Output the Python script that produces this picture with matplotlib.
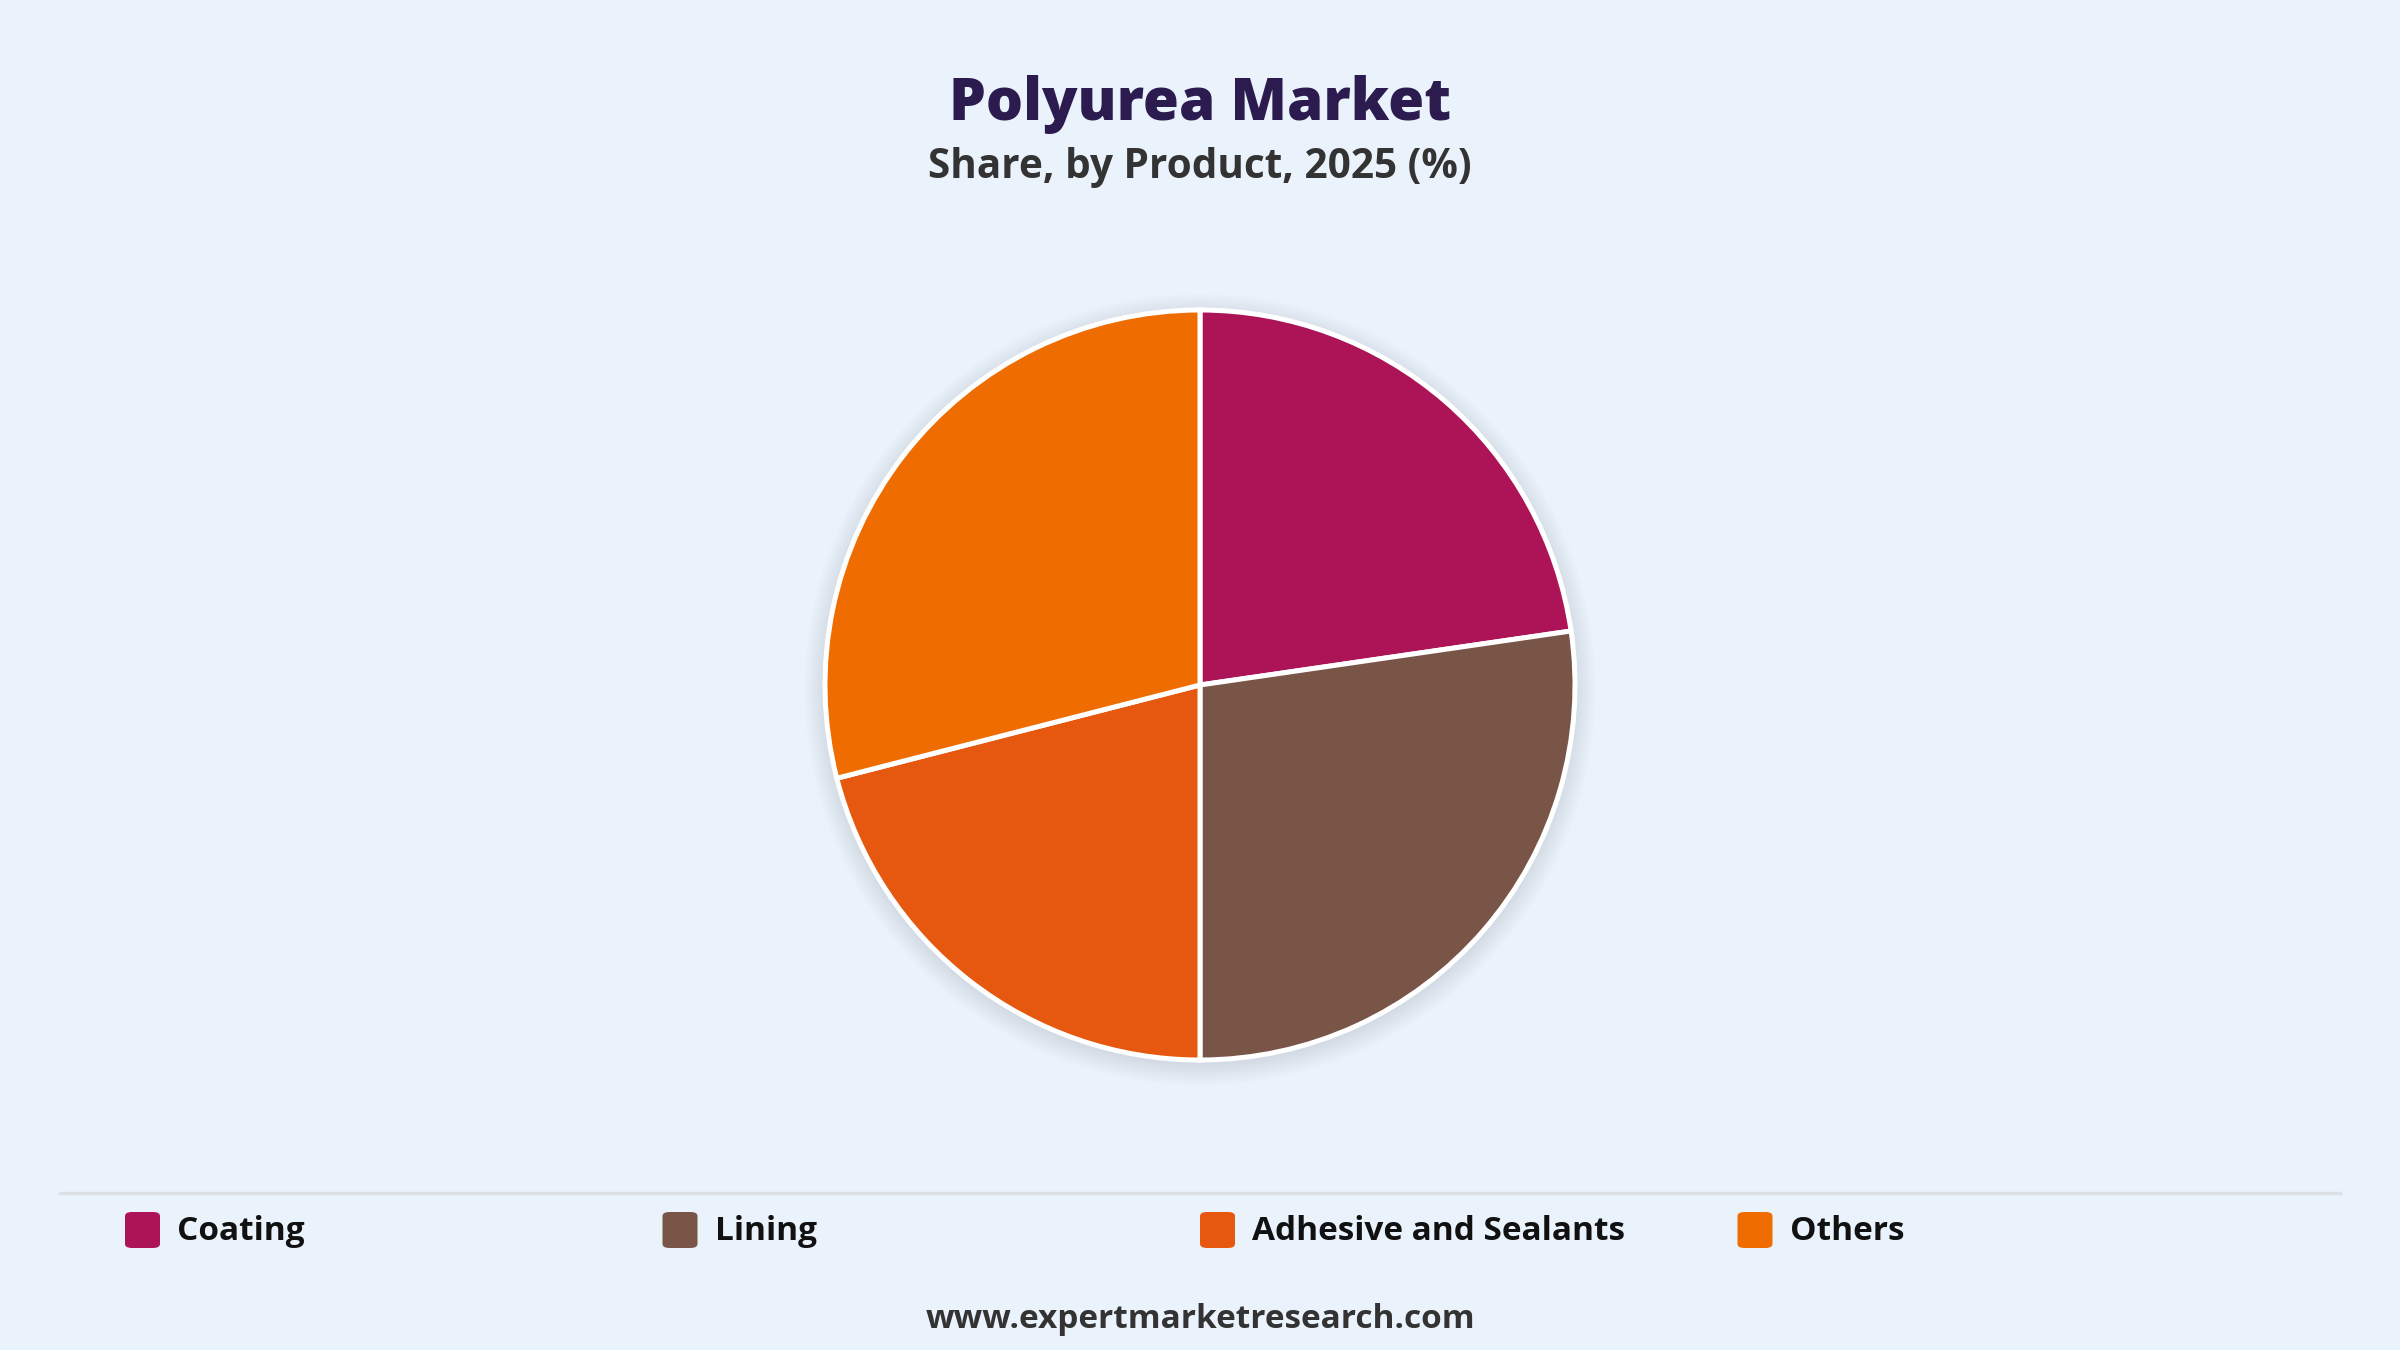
import matplotlib.pyplot as plt
from matplotlib.patches import Circle, FancyBboxPatch
from matplotlib.lines import Line2D

# data
products = ['Coating', 'Lining', 'Adhesive and Sealants', 'Others']
shares = [22.7, 27.3, 21.0, 29.0]
colors = ['#AD1457', '#795548', '#E65710', '#EF6C00']

title = 'Polyurea Market'
subtitle = 'Share, by Product, 2025 (%)'
source = 'www.expertmarketresearch.com'

bg = '#EAF2FC'
W, H = 2400, 1350
plt.rcParams['font.family'] = ['Open Sans', 'DejaVu Sans']

fig = plt.figure(figsize=(12, 6.75), dpi=200, facecolor=bg)

# pie axes, centre at (1200, 685) px, radius ~375 px
cx, cy, r = 1200 / W, 1 - 685 / H, 375
ax = fig.add_axes([cx - r / W, cy - r / H, 2 * r / W, 2 * r / H])
ax.set_facecolor('none')
ax.axis('off')

# soft shadow under the pie
for i in range(12):
    ax.add_patch(Circle((0, -0.012), 1.0 + 0.005 * i, color='#6b6f75',
                        alpha=0.011, lw=0, zorder=0, clip_on=False))

ax.pie(shares, colors=colors, startangle=90, counterclock=False,
       wedgeprops=dict(edgecolor='white', linewidth=1.8))
ax.set_xlim(-1.0, 1.0)
ax.set_ylim(-1.0, 1.0)

# titles
fig.text(0.5, 1 - 104 / H, title, ha='center', va='center', fontsize=21,
         fontweight=800, color='#2B1B4F')
fig.text(0.5, 1 - 168 / H, subtitle, ha='center', va='center', fontsize=14.6,
         fontweight='bold', color='#333333')

# separator line
fig.add_artist(Line2D([60 / W, 2340 / W], [1 - 1193 / H, 1 - 1193 / H],
                      color='#DCDFE3', lw=1.2))

# legend
for i, (name, c) in enumerate(zip(products, colors)):
    x0 = (125 + i * 537.5) / W
    fig.add_artist(FancyBboxPatch((x0, 1 - 1248 / H), 35 / W, 36 / H,
                                  boxstyle='round,pad=0,rounding_size=0.003',
                                  transform=fig.transFigure, fc=c, ec='none'))
    fig.text(x0 + 52 / W, 1 - 1231 / H, name, ha='left', va='center',
             fontsize=12, fontweight='bold', color='#111111')

fig.text(0.5, 1 - 1320 / H, source, ha='center', va='center', fontsize=12,
         fontweight='bold', color='#333333')

fig.savefig('out.png', dpi=200, facecolor=bg)
